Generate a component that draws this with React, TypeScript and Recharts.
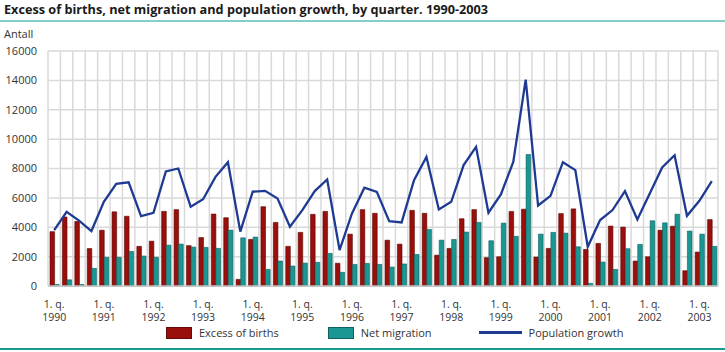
import React from 'react';
import { ComposedChart, Bar, Line, XAxis, YAxis, CartesianGrid } from 'recharts';

const years = [1990, 1991, 1992, 1993, 1994, 1995, 1996, 1997, 1998, 1999, 2000, 2001, 2002, 2003];

const excessOfBirths = [
  3700, 4700, 4400, 2550,
  3800, 5050, 4750, 2700,
  3050, 5080, 5200, 2750,
  3300, 4900, 4650, 450,
  3170, 5400, 4330, 2700,
  3650, 4880, 5080, 1550,
  3530, 5200, 4950, 3120,
  2850, 5150, 4950, 2100,
  2560, 4580, 5200, 1930,
  1990, 5080, 5230, 1970,
  2560, 4930, 5250, 2490,
  2900, 4080, 4010, 1700,
  1990, 3800, 4070, 1040,
  2310, 4520,
];

const netMigration = [
  100, 420, 100, 1200,
  1950, 1950, 2350, 2040,
  1950, 2780, 2850, 2650,
  2630, 2560, 3800, 3280,
  3330, 1130, 1700, 1360,
  1560, 1610, 2220, 930,
  1470, 1540, 1470, 1290,
  1500, 2150, 3850, 3120,
  3170, 3670, 4330, 3080,
  4280, 3380, 8950, 3530,
  3650, 3600, 2670, 180,
  1630, 1130, 2540, 2830,
  4440, 4300, 4890, 3740,
  3530, 2700,
];

const populationGrowth = [
  3800, 5050, 4450, 3740,
  5730, 6950, 7060, 4760,
  4980, 7800, 8000, 5390,
  5910, 7430, 8430, 3700,
  6420, 6480, 5960, 4030,
  5170, 6460, 7250, 2450,
  4940, 6690, 6410, 4420,
  4330, 7210, 8790, 5210,
  5730, 8230, 9470, 4990,
  6230, 8450, 14050, 5480,
  6140, 8430, 7890, 2670,
  4490, 5170, 6460, 4530,
  6300, 8070, 8900, 4780,
  5800, 7140,
];

const yTicks = [0, 2000, 4000, 6000, 8000, 10000, 12000, 14000, 16000];

const RED = '#990f0b';
const TEAL = '#1b9793';
const NAVY = '#1f3a93';
const FONT = "'Open Sans', sans-serif";

const data = excessOfBirths.map((v, i) => ({
  key: `${years[Math.floor(i / 4)]}-${(i % 4) + 1}`,
  year: years[Math.floor(i / 4)],
  quarter: (i % 4) + 1,
  births: v,
  migration: netMigration[i],
  growth: populationGrowth[i],
}));

const QuarterTick = (props: any) => {
  const { x, y, index } = props;
  const d = data[index];
  if (!d || d.quarter !== 1) return <g />;
  return (
    <g>
      <text x={x} y={y + 14} textAnchor="middle" fill="#333" fontSize={10.5} fontFamily={FONT}>1. q.</text>
      <text x={x} y={y + 27} textAnchor="middle" fill="#333" fontSize={10.5} fontFamily={FONT}>{d.year}</text>
    </g>
  );
};

// gridlines sit between the quarters, not on them
const gridX = ({ offset }: any) => {
  const n = data.length;
  const out: number[] = [];
  for (let i = 0; i <= n; i++) out.push(offset.left + (i * offset.width) / n);
  return out;
};

const LegendItem = ({ kind, color, label }: { kind: 'box' | 'line'; color: string; label: string }) => (
  <div style={{ display: 'flex', alignItems: 'center' }}>
    {kind === 'box' ? (
      <div style={{ width: 26, height: 12, background: color, boxShadow: 'inset 0 0 0 1px rgba(0,0,0,0.35)' }} />
    ) : (
      <div style={{ width: 43, height: 3, background: color }} />
    )}
    <span style={{ marginLeft: 7, fontSize: 11, color: '#333' }}>{label}</span>
  </div>
);

export default function App() {
  return (
    <div style={{ position: 'absolute', left: 0, top: 0, width: 725, height: 352, background: '#fff', fontFamily: FONT, overflow: 'hidden' }}>
      <div style={{ position: 'absolute', left: 4, top: 0, fontSize: 12.7, fontWeight: 700, color: '#1a1a1a', whiteSpace: 'nowrap' }}>
        Excess of births, net migration and population growth, by quarter. 1990-2003
      </div>
      <div style={{ position: 'absolute', left: 0, top: 20, width: 725, height: 2, background: '#84cdc9' }} />
      <div style={{ position: 'absolute', left: 4, top: 26, fontSize: 11, color: '#333' }}>Antall</div>

      <div style={{ position: 'absolute', left: 0, top: 0 }}>
        <ComposedChart
          width={725}
          height={352}
          data={data}
          margin={{ top: 51, right: 7, left: 0, bottom: 26 }}
          barGap={0}
          barCategoryGap="16%"
        >
          <CartesianGrid stroke="#d9d9d9" strokeWidth={1.5} verticalCoordinatesGenerator={gridX} />
          <XAxis
            dataKey="key"
            height={40}
            interval={0}
            tick={<QuarterTick />}
            tickLine={false}
            axisLine={{ stroke: '#c8c8c8', strokeWidth: 1.5 }}
          />
          <YAxis
            width={48}
            domain={[0, 16000]}
            ticks={yTicks}
            tickLine={false}
            axisLine={false}
            tickMargin={5}
            tick={{ fill: '#333', fontSize: 11, fontFamily: FONT }}
          />
          <Bar dataKey="births" fill={RED} stroke="#5a0704" strokeWidth={0.6} barSize={4.6} isAnimationActive={false} />
          <Bar dataKey="migration" fill={TEAL} stroke="#0e5d5a" strokeWidth={0.6} barSize={4.6} isAnimationActive={false} />
          <Line dataKey="growth" type="linear" stroke={NAVY} strokeWidth={2.3} dot={false} activeDot={false} isAnimationActive={false} />
        </ComposedChart>
      </div>

      <div style={{ position: 'absolute', left: 166, top: 325, display: 'flex', alignItems: 'center' }}>
        <LegendItem kind="box" color={RED} label="Excess of births" />
        <div style={{ width: 49 }} />
        <LegendItem kind="box" color={TEAL} label="Net migration" />
        <div style={{ width: 47 }} />
        <LegendItem kind="line" color={NAVY} label="Population growth" />
      </div>
      <div style={{ position: 'absolute', left: 0, top: 348, width: 725, height: 2, background: '#1a9a93' }} />
    </div>
  );
}
